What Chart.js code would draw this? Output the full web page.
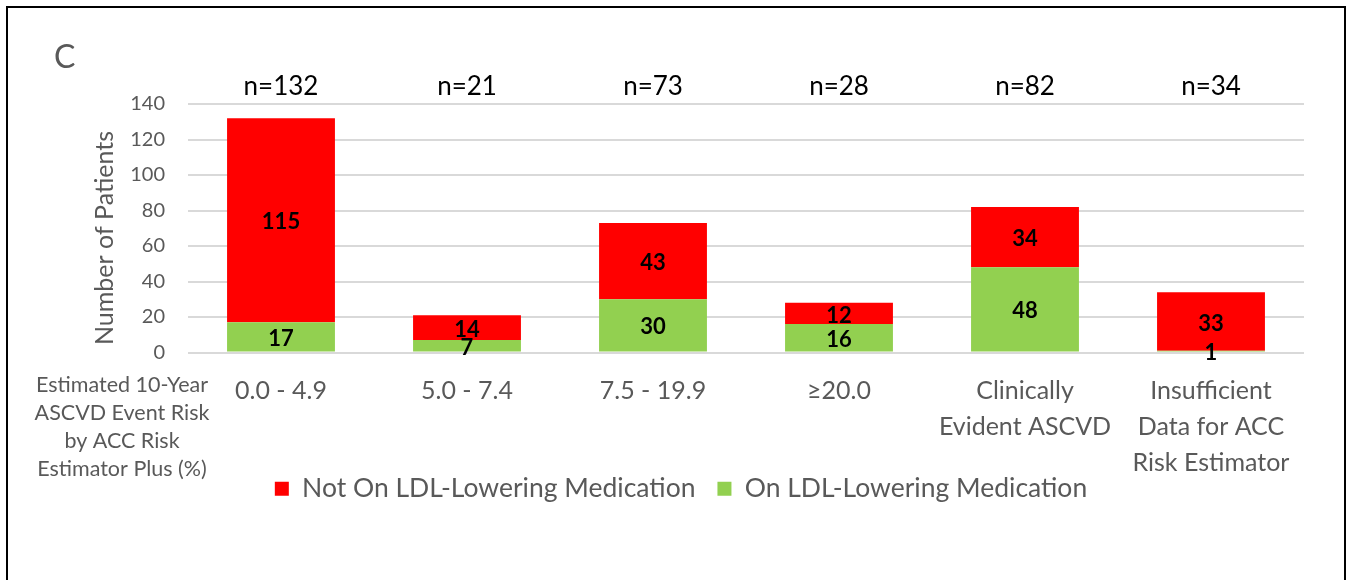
<!DOCTYPE html>
<html>
<head>
<meta charset="utf-8">
<script src="https://cdn.jsdelivr.net/npm/chart.js@4.4.0/dist/chart.umd.min.js"></script>
<style>
  html, body { margin: 0; padding: 0; background: #fff; overflow: hidden; }
  #wrap { position: absolute; left: 0; top: 0; width: 1349px; height: 580px; }
  #frame { position: absolute; left: 6px; top: 6px; width: 1340px; height: 700px; box-sizing: border-box; border: 2px solid #000; pointer-events: none; }
</style>
</head>
<body>
<div id="wrap"><canvas id="c"></canvas></div>
<div id="frame"></div>
<script>
const categories = [
  '0.0 - 4.9',
  '5.0 - 7.4',
  '7.5 - 19.9',
  '≥20.0',
  ['Clinically', 'Evident ASCVD'],
  ['Insufficient', 'Data for ACC', 'Risk Estimator']
];
const notOnMedication = [115, 14, 43, 12, 34, 33];
const onMedication = [17, 7, 30, 16, 48, 1];
const totalLabels = ['n=132', 'n=21', 'n=73', 'n=28', 'n=82', 'n=34'];
const yTicks = [0, 20, 40, 60, 80, 100, 120, 140];
const yTitle = 'Number of Patients';
const panelLetter = 'C';
const xAxisNote = ['Estimated 10-Year', 'ASCVD Event Risk', 'by ACC Risk', 'Estimator Plus (%)'];

const GRAY = '#595959';
const FONT = 'Lato, "Open Sans", sans-serif';

const annotations = {
  id: 'annotations',
  afterDatasetsDraw(chart) {
    const ctx = chart.ctx;
    const area = chart.chartArea;
    const xs = chart.scales.x;
    ctx.save();
    // segment value labels
    ctx.font = 'bold 22px ' + FONT;
    ctx.fillStyle = '#000';
    ctx.textAlign = 'center';
    ctx.textBaseline = 'middle';
    chart.data.datasets.forEach((ds, di) => {
      const meta = chart.getDatasetMeta(di);
      meta.data.forEach((el, i) => {
        const p = el.getProps(['x', 'y', 'base'], true);
        ctx.fillText(String(ds.data[i]), p.x, (p.y + p.base) / 2 + 2);
      });
    });
    // totals above
    ctx.font = '26px ' + FONT;
    ctx.fillStyle = '#000';
    totalLabels.forEach((t, i) => {
      ctx.fillText(t, xs.getPixelForValue(i), area.top - 17);
    });
    // panel letter
    ctx.font = '32px ' + FONT;
    ctx.fillStyle = GRAY;
    ctx.textAlign = 'left';
    ctx.fillText(panelLetter, 54, 58);
    // y axis title
    ctx.save();
    ctx.translate(area.left - 83, area.top + 134);
    ctx.rotate(-Math.PI / 2);
    ctx.textAlign = 'center';
    ctx.font = '25px ' + FONT;
    ctx.fillText(yTitle, 0, 0);
    ctx.restore();
    // axis note at left
    ctx.font = '21.5px ' + FONT;
    ctx.textAlign = 'center';
    xAxisNote.forEach((line, k) => {
      ctx.fillText(line, area.left - 66, area.bottom + 33 + k * 28);
    });
    ctx.restore();
  }
};

new Chart(document.getElementById('c'), {
  type: 'bar',
  data: {
    labels: categories,
    datasets: [
      { label: 'On LDL-Lowering Medication', data: onMedication, backgroundColor: '#92D050', borderWidth: 0 },
      { label: 'Not On LDL-Lowering Medication', data: notOnMedication, backgroundColor: '#FF0000', borderWidth: 0 }
    ]
  },
  options: {
    responsive: true,
    maintainAspectRatio: false,
    animation: false,
    layout: { padding: { left: 58, right: 45, top: 104, bottom: 68 } },
    datasets: { bar: { categoryPercentage: 1, barPercentage: 0.58 } },
    plugins: {
      legend: {
        position: 'bottom',
        reverse: true,
        labels: {
          boxWidth: 14, boxHeight: 14, padding: 22,
          color: GRAY,
          font: { family: FONT, size: 26.5 }
        }
      },
      tooltip: { enabled: false }
    },
    scales: {
      x: {
        stacked: true,
        grid: { display: false, drawTicks: false },
        border: { display: false },
        ticks: { color: GRAY, padding: 20, maxRotation: 0, autoSkip: false, font: { family: FONT, size: 25, lineHeight: 1.44 } },
        afterFit(s) {
          s.height = 101;
          s._computeLabelArea = function () { return undefined; };
        }
      },
      y: {
        stacked: true,
        min: 0, max: 140,
        afterBuildTicks(s) { s.ticks = yTicks.map(v => ({ value: v })); },
        grid: { color: '#D9D9D9', lineWidth: 2, drawTicks: false },
        border: { display: false },
        ticks: { color: GRAY, padding: 23, font: { family: FONT, size: 20 } },
        title: { display: false },
        afterFit(s) { s.width = 130; }
      }
    }
  },
  plugins: [annotations]
});
</script>
</body>
</html>
